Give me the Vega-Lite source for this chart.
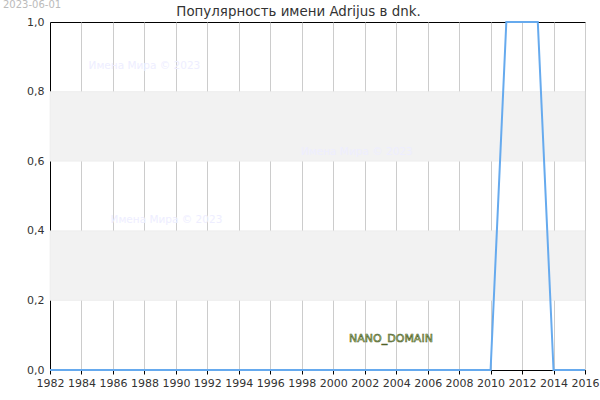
{
  "$schema": "https://vega.github.io/schema/vega-lite/v6.json",
  "width": 535,
  "height": 348,
  "autosize": {"type": "none"},
  "padding": {"left": 50, "top": 22, "right": 15, "bottom": 30},
  "background": "white",
  "title": {"text": "Популярность имени Adrijus в dnk.", "anchor": "middle", "frame": "group", "dx": -19, "offset": -18, "font": "DejaVu Sans", "fontSize": 13.4, "fontWeight": "normal", "color": "#333333"},
  "config": {
    "font": "DejaVu Sans",
    "view": {"stroke": "#000000", "strokeWidth": 1}
  },
  "datasets": {
    "series": [
      {"year": 1982, "value": 0}, {"year": 1983, "value": 0}, {"year": 1984, "value": 0}, {"year": 1985, "value": 0},
      {"year": 1986, "value": 0}, {"year": 1987, "value": 0}, {"year": 1988, "value": 0}, {"year": 1989, "value": 0},
      {"year": 1990, "value": 0}, {"year": 1991, "value": 0}, {"year": 1992, "value": 0}, {"year": 1993, "value": 0},
      {"year": 1994, "value": 0}, {"year": 1995, "value": 0}, {"year": 1996, "value": 0}, {"year": 1997, "value": 0},
      {"year": 1998, "value": 0}, {"year": 1999, "value": 0}, {"year": 2000, "value": 0}, {"year": 2001, "value": 0},
      {"year": 2002, "value": 0}, {"year": 2003, "value": 0}, {"year": 2004, "value": 0}, {"year": 2005, "value": 0},
      {"year": 2006, "value": 0}, {"year": 2007, "value": 0}, {"year": 2008, "value": 0}, {"year": 2009, "value": 0},
      {"year": 2010, "value": 0}, {"year": 2011, "value": 1}, {"year": 2012, "value": 1}, {"year": 2013, "value": 1},
      {"year": 2014, "value": 0}, {"year": 2015, "value": 0}, {"year": 2016, "value": 0}
    ],
    "bands": [
      {"year": 1982, "year2": 2016, "value": 0.2, "hi": 0.4},
      {"year": 1982, "year2": 2016, "value": 0.6, "hi": 0.8}
    ],
    "marks": [
      {"year": 1988.0, "value": 0.874, "label": "Имена Мира © 2023"},
      {"year": 2001.5, "value": 0.626, "label": "Имена Мира © 2023"},
      {"year": 1989.4, "value": 0.431, "label": "Имена Мира © 2023"}
    ],
    "nano": [{"year": 2003.67, "value": 0.089, "label": "NANO_DOMAIN"}],
    "date": [{"year": 1980.86, "value": 1.063, "label": "2023-06-01"}]
  },
  "encoding": {
    "x": {"field": "year", "type": "quantitative", "scale": {"domain": [1982, 2016], "nice": false, "zero": false},
      "axis": {"title": null, "values": [1982,1984,1986,1988,1990,1992,1994,1996,1998,2000,2002,2004,2006,2008,2010,2012,2014,2016], "format": "d", "grid": true, "gridColor": "#cccccc", "gridWidth": 1, "domainColor": "#000000", "tickColor": "#000000", "tickSize": 4, "labelFontSize": 11, "labelColor": "#333333", "labelPadding": 3, "labelFlush": false, "labelOverlap": false}},
    "y": {"field": "value", "type": "quantitative", "scale": {"domain": [0, 1], "nice": false},
      "axis": {"title": null, "values": [0, 0.2, 0.4, 0.6, 0.8, 1.0], "labelExpr": "replace(format(datum.value, '.1f'), '.', ',')", "grid": false, "domainColor": "#000000", "ticks": false, "labelFontSize": 11, "labelColor": "#333333", "labelPadding": 6}}
  },
  "layer": [
    {
      "data": {"name": "bands"},
      "mark": {"type": "rect", "color": "#f2f2f2", "stroke": "#e6e6e6", "strokeWidth": 0.5},
      "encoding": {
        "x2": {"field": "year2"},
        "y2": {"field": "hi"}
      }
    },
    {
      "data": {"name": "marks"},
      "mark": {"type": "text", "color": "#eeeeff", "fontSize": 10.5, "align": "center", "baseline": "middle"},
      "encoding": {
        "text": {"field": "label"}
      }
    },
    {
      "data": {"name": "series"},
      "mark": {"type": "line", "color": "#66aaee", "strokeWidth": 2, "clip": false},
      "encoding": {}
    },
    {
      "data": {"name": "nano"},
      "mark": {"type": "text", "fill": "#cadb9c", "stroke": "#4f6228", "strokeWidth": 0.6, "fontSize": 11, "fontWeight": "normal", "align": "center", "baseline": "middle"},
      "encoding": {
        "text": {"field": "label"}
      }
    },
    {
      "data": {"name": "date"},
      "mark": {"type": "text", "color": "#bbbbbb", "fontSize": 10, "align": "center", "baseline": "top", "clip": false},
      "encoding": {
        "text": {"field": "label"}
      }
    }
  ]
}
